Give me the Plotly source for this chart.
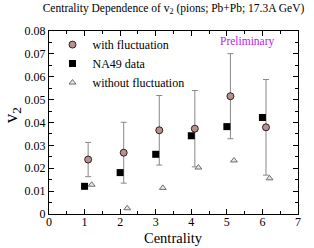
import plotly.graph_objects as go

# Data
x_with = [1.1, 2.1, 3.1, 4.1, 5.1, 6.1]
v2_with = [0.0238, 0.0268, 0.0366, 0.0373, 0.0515, 0.0379]
err_with = [0.0075, 0.0133, 0.0152, 0.0167, 0.0186, 0.0209]

x_na49 = [1, 2, 3, 4, 5, 6]
v2_na49 = [0.0121, 0.0181, 0.0261, 0.0342, 0.0382, 0.0422]

x_without = [1.2, 2.2, 3.2, 4.2, 5.2, 6.2]
v2_without = [0.0128, 0.0025, 0.0114, 0.0203, 0.0234, 0.0156]

x_ticks = [0, 1, 2, 3, 4, 5, 6, 7]
x_ticklabels = ["0", "1", "2", "3", "4", "5", "6", "7"]
y_ticks = [0, 0.01, 0.02, 0.03, 0.04, 0.05, 0.06, 0.07, 0.08]
y_ticklabels = ["0", "0.01", "0.02", "0.03", "0.04", "0.05", "0.06", "0.07", "0.08"]

FONT = "Liberation Serif, Times New Roman, serif"

fig = go.Figure()
fig.add_trace(go.Scatter(
    x=x_with, y=v2_with, mode="markers", name="with fluctuation",
    marker=dict(symbol="circle", size=7, color="#bc8f8f", line=dict(color="black", width=0.8)),
    error_y=dict(type="data", array=err_with, visible=True, color="#888888", thickness=1, width=3),
))
fig.add_trace(go.Scatter(
    x=x_na49, y=v2_na49, mode="markers", name="NA49 data",
    marker=dict(symbol="square", size=7, color="black", line=dict(color="black", width=0)),
))
fig.add_trace(go.Scatter(
    x=x_without, y=v2_without, mode="markers", name="without fluctuation",
    marker=dict(symbol="triangle-up", size=6, color="#e6e6e6", line=dict(color="#6e6e6e", width=1)),
))

axis_common = dict(
    showline=True, linecolor="black", linewidth=1, mirror="allticks",
    ticks="inside", ticklen=5, tickwidth=1, tickcolor="black",
    showgrid=False, zeroline=False,
    tickfont=dict(family=FONT, size=12, color="black"),
)
fig.update_xaxes(range=[0, 7], tickvals=x_ticks, ticktext=x_ticklabels,
                 ticklabelstandoff=-3,
                 minor=dict(dtick=0.5, ticks="inside", ticklen=3, tickcolor="black"),
                 **axis_common)
fig.update_yaxes(range=[0, 0.08], tickvals=y_ticks, ticktext=y_ticklabels,
                 minor=dict(dtick=0.005, ticks="inside", ticklen=3, tickcolor="black"),
                 **axis_common)

fig.update_layout(
    width=314, height=248,
    margin=dict(l=49, r=16, t=31, b=34),
    paper_bgcolor="white", plot_bgcolor="white",
    font=dict(family=FONT, color="black"),
    title=dict(text="Centrality Dependence of v<sub>2</sub> (pions; Pb+Pb; 17.3A GeV)",
               x=0.5, xref="paper", xanchor="center",
               y=1 - 8 / 248, yref="container", yanchor="middle",
               font=dict(family=FONT, size=11.5, color="black")),
    showlegend=True,
    legend=dict(x=0.014, y=1.005, xanchor="left", yanchor="top",
                bgcolor="rgba(0,0,0,0)", borderwidth=0,
                font=dict(family=FONT, size=12, color="black"),
                tracegroupgap=0, itemsizing="trace"),
    annotations=[
        dict(text="Preliminary", x=5.59, y=0.0753, xref="x", yref="y",
             showarrow=False, font=dict(family=FONT, size=11.5, color="#bb22ee")),
        dict(text="Centrality", x=0.5, y=-0.133, xref="paper", yref="paper",
             xanchor="center", yanchor="middle", showarrow=False,
             font=dict(family=FONT, size=14.5, color="black")),
        dict(text="v<sub>2</sub>", x=-0.148, y=0.54, xref="paper", yref="paper",
             xanchor="center", yanchor="middle", textangle=-90, showarrow=False,
             font=dict(family=FONT, size=19, color="black")),
    ],
)

fig.write_html(
    "out.html",
    config={"displayModeBar": False},
    post_script="document.body.style.margin='0';document.body.style.padding='0';",
)
